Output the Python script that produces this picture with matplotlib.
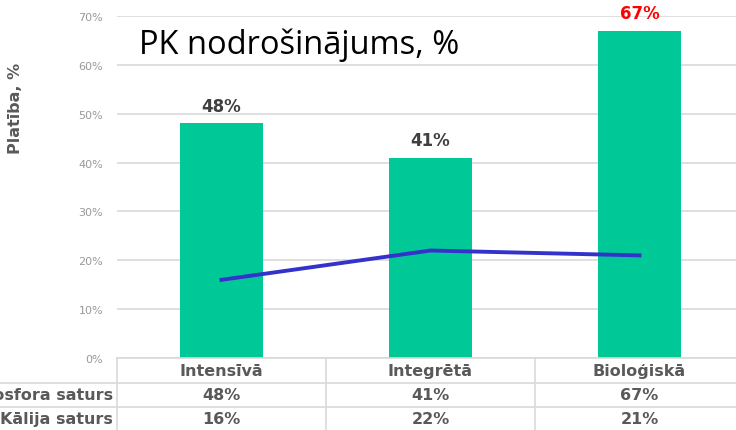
import matplotlib
matplotlib.use("Agg")
import matplotlib.pyplot as plt
from matplotlib.lines import Line2D

categories = ["Intensīvā", "Integrētā", "Bioloģiskā"]
fosfors = [48, 41, 67]
kalijs = [16, 22, 21]
row_labels = ["Fosfora saturs", "Kālija saturs"]
yticks = [0, 10, 20, 30, 40, 50, 60, 70]

W, H = 736, 431
fig = plt.figure(figsize=(W / 100, H / 100), dpi=100)
ax = fig.add_axes([117 / W, 1 - 359 / H, (744 - 117) / W, (359 - 17) / H])

x = list(range(len(categories)))
bars = ax.bar(x, fosfors, width=0.395, color="#00C897", zorder=2)
ax.plot(x, kalijs, color="#3333CC", lw=2.8, zorder=3)

label_colors = ["#404040", "#404040", "#FF0000"]
for xi, v, c in zip(x, fosfors, label_colors):
    ax.text(xi, v + 1.8, f"{v}%", ha="center", va="bottom", fontsize=12,
            fontweight="bold", color=c, family="DejaVu Sans")

ax.set_xlim(-0.5, 2.5)
ax.set_ylim(0, 70)
ax.set_yticks(yticks)
ax.set_yticklabels([f"{t}%" for t in yticks], color="#999999", fontsize=8)
ax.tick_params(axis="y", length=0, pad=10)
ax.set_xticks([])
ax.grid(axis="y", color="#D9D9D9", lw=1.2, zorder=0)
for s in ax.spines.values():
    s.set_visible(False)

fig.text(16 / W, 1 - 108 / H, "Platība, %", rotation=90, ha="center", va="center",
         fontsize=11.5, fontweight="bold", color="#595959")

fig.text(139 / W, 1 - 45 / H, "PK nodrošinājums, %", ha="left", va="center",
         fontsize=23.5, color="#000000", family="Open Sans")

# table
grid_c = "#D9D9D9"
col_w = 209
x0 = 117
row_tops = [359, 384, 408, 431]
for yy in row_tops[:-1]:
    fig.add_artist(Line2D([0 if yy != 359 else x0 / W, 1], [1 - yy / H, 1 - yy / H],
                          transform=fig.transFigure, color=grid_c, lw=1.2))
for i in range(4):
    xx = (x0 + i * col_w) / W
    fig.add_artist(Line2D([xx, xx], [0, 1 - 359 / H], transform=fig.transFigure,
                          color=grid_c, lw=1.2))

tc = "#595959"
fs = 11.5
for i, cat in enumerate(categories):
    cx = (x0 + col_w * (i + 0.5)) / W
    fig.text(cx, 1 - 372 / H, cat, ha="center", va="center", fontsize=fs,
             fontweight="bold", color=tc)
    fig.text(cx, 1 - 396 / H, f"{fosfors[i]}%", ha="center", va="center", fontsize=fs,
             fontweight="bold", color=tc)
    fig.text(cx, 1 - 420 / H, f"{kalijs[i]}%", ha="center", va="center", fontsize=fs,
             fontweight="bold", color=tc)
for j, lab in enumerate(row_labels):
    fig.text(113 / W, 1 - (396 + 24 * j) / H, lab, ha="right", va="center",
             fontsize=fs, fontweight="bold", color=tc)

fig.savefig("out.png", dpi=100)
